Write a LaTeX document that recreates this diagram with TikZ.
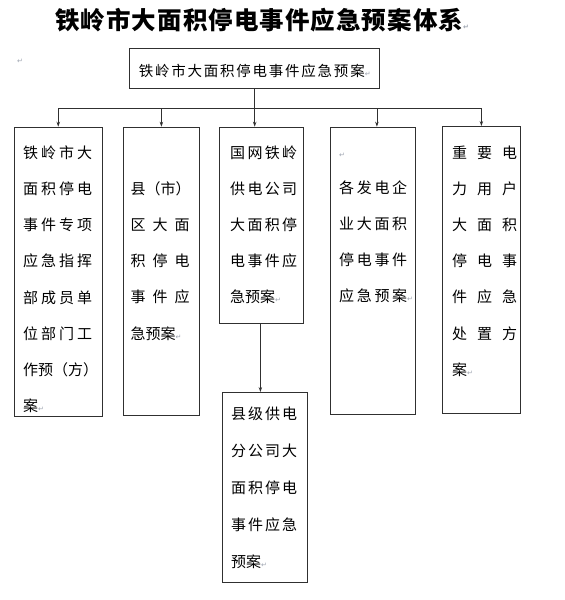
\documentclass[tikz,border=0pt]{standalone}
\usepackage{fontspec}
\usepackage{xcolor}
\usepackage{tikz}
\usetikzlibrary{positioning, arrows.meta, calc}
\newfontfamily\cjk{Noto Sans CJK SC}
\newfontfamily\symfont{DejaVu Sans}
\definecolor{linegray}{HTML}{303030}
\definecolor{markgray}{HTML}{9CA3AF}
\newcommand\pmark{{\symfont\fontsize{7}{7}\selectfont\textcolor{markgray}{↵}}}
\newcommand\jl[2][\hsize]{\makebox[#1][s]{\jlfirst#2\relax}}
\def\jlfirst#1{#1\jlrest}
\def\jlrest#1{\ifx\relax#1\else\hfil#1\expandafter\jlrest\fi}
\tikzset{
    planbox/.style={draw=linegray, line width=0.8pt, inner sep=0pt, anchor=north west},
    plantext/.style={inner sep=0pt, anchor=north west, align=left,
                     font=\cjk\fontsize{15}{36.2}\selectfont},
    link/.style={draw=linegray, line width=0.8pt},
    arrow/.style={link, -{Stealth[length=5pt, width=3.5pt]}}
}

\begin{document}
\begin{tikzpicture}[x=1pt, y=-1pt]
    \useasboundingbox (0,0) rectangle (565,600);
    \node[anchor=base west, inner sep=0pt, font=\cjk\bfseries\fontsize{24.5}{24.5}\selectfont] (title)
        at (55,29.5) {\jl[408pt]{铁岭市大面积停电事件应急预案体系}\pmark};
    \node[inner sep=0pt] (pm0) at (20,61) {\pmark};
    \node[planbox, minimum width=250pt, minimum height=40pt, text height=16pt, text depth=0pt,
          font=\cjk\fontsize{14.5}{14.5}\selectfont] (top) at (129.3,48.3) {\jl[226pt]{铁岭市大面积停电事件应急预案}\pmark};

    \node[planbox, minimum width=87.7pt, minimum height=289.3pt] (b1) at (14,126.7) {};
    \node[planbox, minimum width=76.6pt, minimum height=288.3pt] (b2) at (122.7,126.7) {};
    \node[planbox, minimum width=84pt, minimum height=196.3pt] (b3) at (219,126.7) {};
    \node[planbox, minimum width=85pt, minimum height=190pt] (b4) at (222,392) {};
    \node[planbox, minimum width=85pt, minimum height=287.3pt] (b5) at (330,126.7) {};
    \node[planbox, minimum width=78pt, minimum height=287pt] (b6) at (442,126) {};

    \node[plantext, text width=69pt] (tx1) at (23,145.3) {%
      \jl{铁岭市大}\\\jl{面积停电}\\\jl{事件专项}\\\jl{应急指挥}\\%
      \jl{部成员单}\\\jl{位部门工}\\\jl{作预（方）}\\案\pmark};
    \node[plantext, text width=59pt] (tx2) at (130.5,181.3) {%
      \jl{县（市）}\\\jl{区大面}\\\jl{积停电}\\\jl{事件应}\\急预案\pmark};
    \node[plantext, text width=67pt] (tx3) at (230,145.3) {%
      \jl{国网铁岭}\\\jl{供电公司}\\\jl{大面积停}\\\jl{电事件应}\\急预案\pmark};
    \node[plantext, text width=66pt, font=\cjk\fontsize{15}{37.2}\selectfont] (tx4) at (231,406.3) {%
      \jl{县级供电}\\\jl{分公司大}\\\jl{面积停电}\\\jl{事件应急}\\预案\pmark};
    \node[plantext, text width=68pt] (tx5) at (339,145.3) {%
      \vphantom{面}\pmark\\\jl{各发电企}\\\jl{业大面积}\\\jl{停电事件}\\\jl{应急预案}\pmark};
    \node[plantext, text width=65pt] (tx6) at (452,145.3) {%
      \jl{重要电}\\\jl{力用户}\\\jl{大面积}\\\jl{停电事}\\\jl{件应急}\\\jl{处置方}\\案\pmark};

    \coordinate (bus) at ($(top.south)+(0,19)$);
    \draw[link] (top.south) -- (bus);
    \draw[link] (b1.north |- bus) -- (b6.north |- bus);
    \draw[arrow] (b1.north |- bus) -- (b1.north);
    \draw[arrow] (b2.north |- bus) -- (b2.north);
    \draw[arrow] (bus) -- (bus |- b3.north);
    \draw[arrow] ([xshift=4pt]b5.north |- bus) -- ([xshift=4pt]b5.north);
    \draw[arrow] (b6.north |- bus) -- (b6.north);
    \draw[arrow] ([xshift=-1pt]b3.south) -- ([xshift=-1pt]b3.south |- b4.north);
\end{tikzpicture}
\end{document}
